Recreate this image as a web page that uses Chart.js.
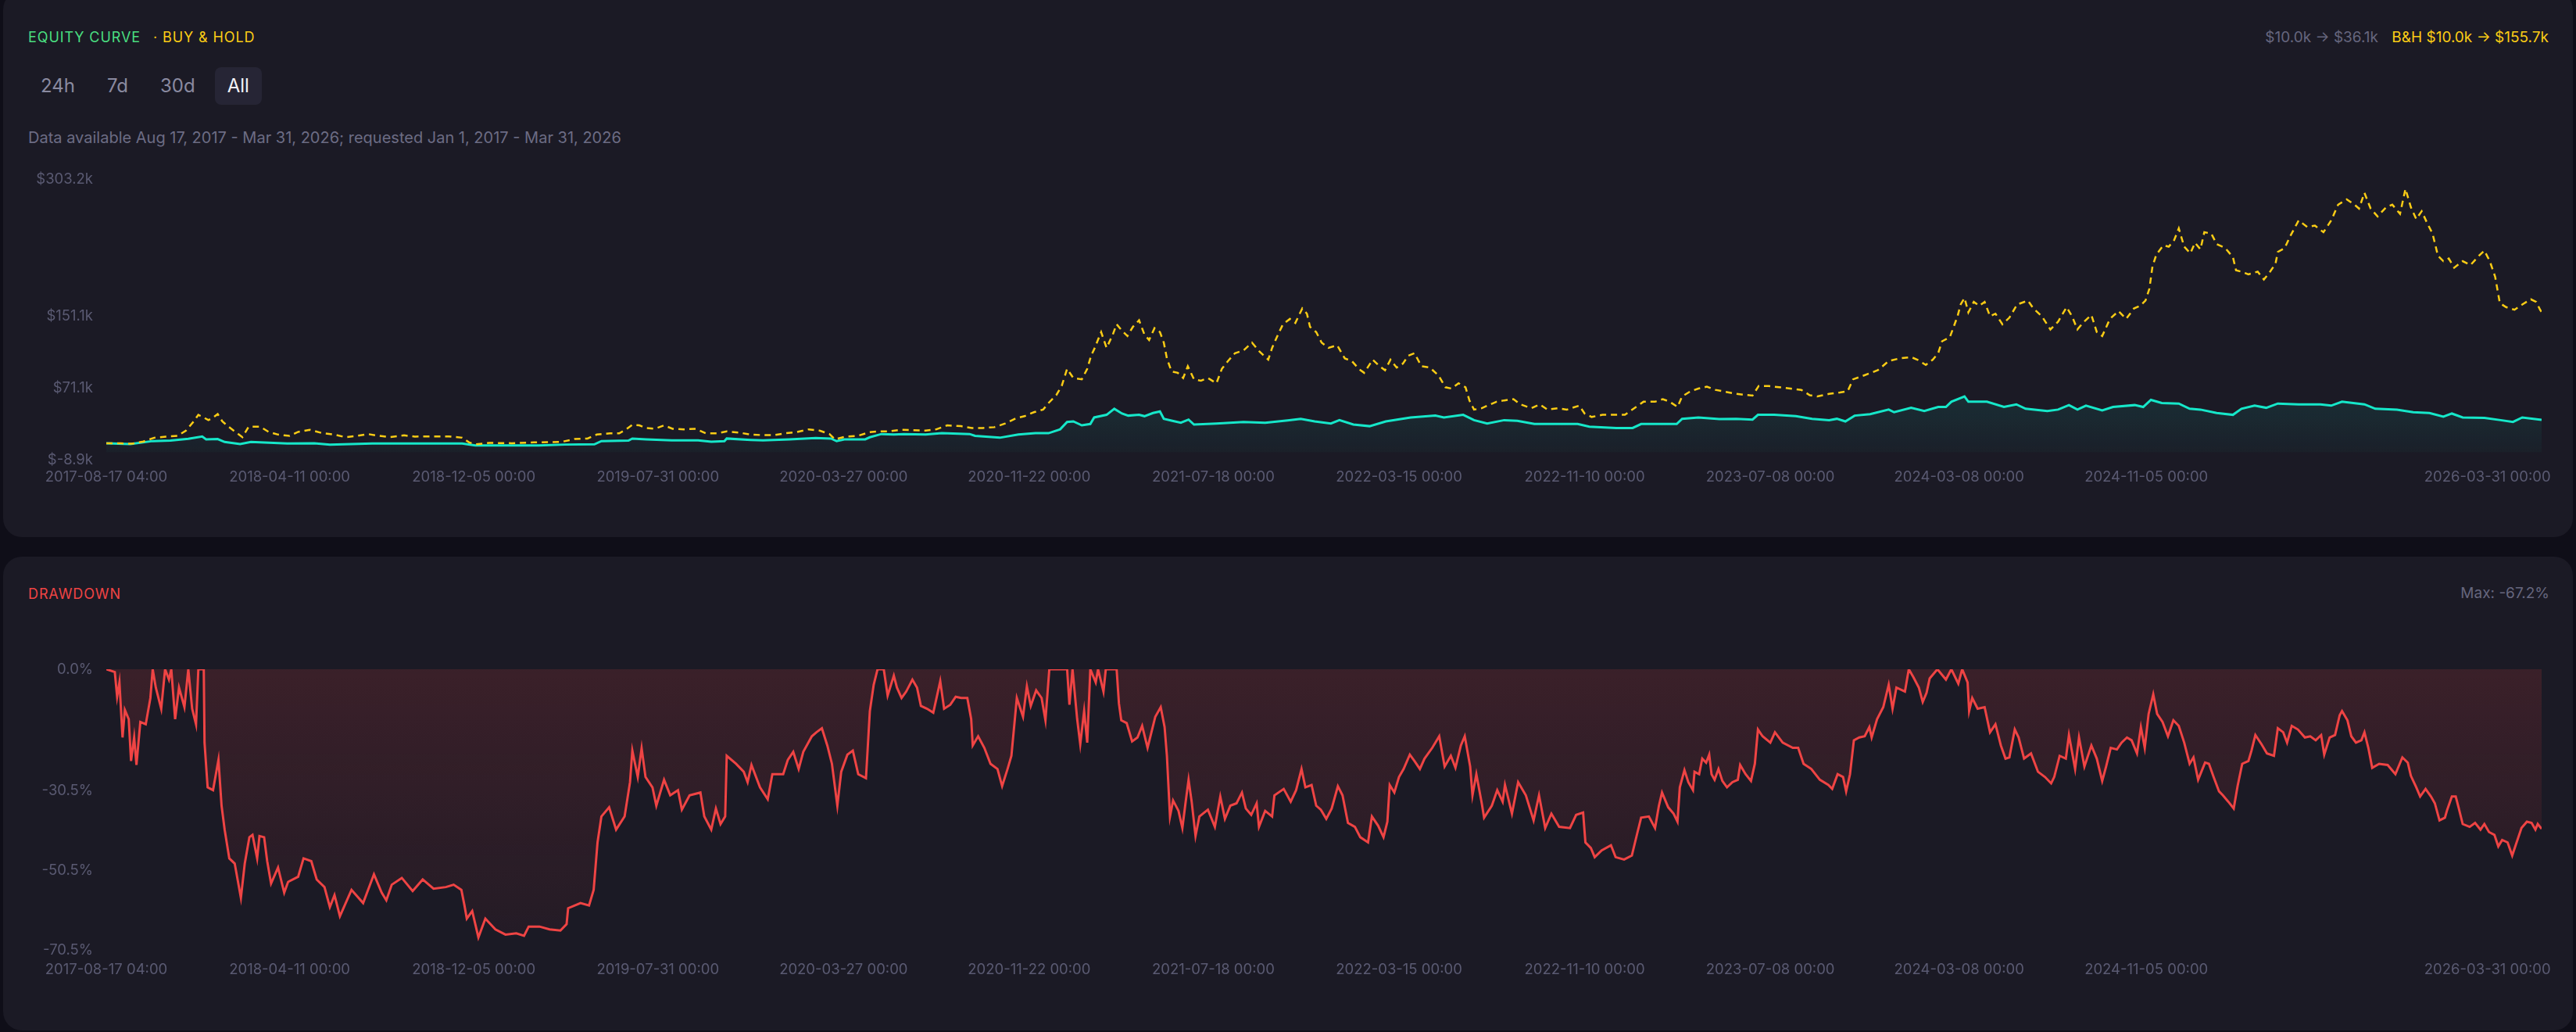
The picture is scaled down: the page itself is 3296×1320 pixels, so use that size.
<!DOCTYPE html>
<html>
<head>
<meta charset="utf-8">
<script src="https://cdn.jsdelivr.net/npm/chart.js@4.4.1/dist/chart.umd.min.js"></script>
<style>
  html, body { margin: 0; padding: 0; }
  body {
    width: 3296px; height: 1320px; overflow: hidden; position: relative;
    background: #0f0e18; font-family: Inter, "Noto Sans", sans-serif;
  }
  .panel { position: absolute; background: #1b1a25; border-radius: 24px; }
  .abs { position: absolute; white-space: nowrap; }
  .title { font-size: 18px; line-height: 24px; letter-spacing: 0.9px; }
  .btns { position: absolute; left: 36px; top: 86px; display: flex; gap: 9px; }
  .btn { font-size: 24px; line-height: 24px; padding: 12px 16px; border-radius: 8px; color: #8a8aa0; }
  .btn.on { background: #262535; color: #f2f2f7; }
  .box { position: absolute; }
</style>
</head>
<body>

<div class="panel" style="left:4px; top:-12px; width:3288px; height:699px;"></div>
<div class="panel" style="left:4px; top:712px; width:3288px; height:606px;"></div>

<div class="abs title" style="left:36px; top:36px;">
  <span style="color:#4ade80;">EQUITY CURVE</span>
  <span style="color:#facc15; margin-left:10px;">· BUY &amp; HOLD</span>
</div>
<div class="abs" style="right:35px; top:36px; font-size:19px; line-height:24px;">
  <span style="color:#66667e;">$10.0k → $36.1k</span>
  <span style="color:#facc15; margin-left:12px;">B&amp;H $10.0k → $155.7k</span>
</div>
<div class="btns">
  <div class="btn">24h</div><div class="btn">7d</div><div class="btn">30d</div><div class="btn on">All</div>
</div>
<div class="abs" style="left:36px; top:164px; font-size:20px; line-height:24px; color:#6c6c84;">
  Data available Aug 17, 2017 - Mar 31, 2026; requested Jan 1, 2017 - Mar 31, 2026
</div>

<div class="abs title" style="left:36px; top:748px; color:#ef4444;">DRAWDOWN</div>
<div class="abs" style="right:34px; top:747px; font-size:19px; line-height:24px; color:#66667e;">Max: -67.2%</div>

<div class="box" style="left:36px; top:200px; width:3228px; height:436px;"><canvas id="equity"></canvas></div>
<div class="box" style="left:36px; top:827px; width:3228px; height:439px;"><canvas id="drawdown"></canvas></div>

<script>
// x is days since 2017-08-17 04:00
const lastDay = 3148;
const tickDays = [0, 237, 475, 713, 953, 1193, 1431, 1671, 1911, 2151, 2395, 2637, 3078];
const tickLabels = [
  '2017-08-17 04:00', '2018-04-11 00:00', '2018-12-05 00:00', '2019-07-31 00:00',
  '2020-03-27 00:00', '2020-11-22 00:00', '2021-07-18 00:00', '2022-03-15 00:00',
  '2022-11-10 00:00', '2023-07-08 00:00', '2024-03-08 00:00', '2024-11-05 00:00',
  '2026-03-31 00:00'
];

// strategy equity, $k
const eqDays = [0,31,60,83,106,124,129,144,153,173,187,234,269,289,344,460,477,559,593,631,640,675,680,698,731,765,782,799,802,833,849,883,917,937,944,954,981,987,1002,1018,1031,1059,1080,1116,1123,1155,1179,1201,1218,1233,1242,1250,1261,1272,1277,1293,1303,1313,1321,1335,1342,1353,1362,1367,1378,1389,1399,1406,1435,1470,1498,1527,1544,1562,1583,1594,1612,1633,1654,1686,1718,1729,1754,1768,1785,1807,1824,1846,1873,1902,1917,1952,1973,1984,2009,2030,2037,2058,2085,2107,2128,2135,2156,2184,2205,2227,2237,2248,2260,2280,2304,2311,2333,2350,2368,2378,2385,2402,2407,2431,2453,2469,2481,2509,2523,2537,2548,2559,2580,2594,2622,2633,2643,2657,2679,2693,2707,2728,2749,2760,2777,2792,2807,2834,2862,2876,2890,2919,2933,2961,2982,3003,3021,3032,3046,3074,3095,3111,3123,3148];
const eqValues = [10.0,9.2,12.5,13.0,15.0,17.5,14.4,14.7,11.5,9.2,11.5,9.8,10.0,8.6,9.8,9.8,7.7,7.7,8.6,8.9,12.4,13.0,15.3,14.4,13.2,13.2,11.8,12.4,15.3,13.8,13.2,14.4,15.9,15.3,12.4,14.4,14.4,16.7,20.3,19.7,20.3,19.7,21.2,20.3,18.3,16.2,19.7,21.2,21.2,25.5,33.7,34.3,29.9,31.4,38.7,41.6,48.3,43.0,40.7,41.6,40.1,43.6,45.4,37.2,34.9,32.8,36.3,30.8,32.0,33.7,32.8,35.4,37.2,34.3,32.0,35.7,30.8,29.0,34.3,38.7,40.7,38.7,41.6,35.7,32.0,35.7,34.9,31.4,31.4,31.4,28.5,27.0,27.0,31.4,31.4,31.4,37.2,38.7,36.8,37.2,36.3,41.6,41.6,40.1,37.2,35.7,37.2,34.3,40.7,42.4,47.4,44.5,49.4,45.9,50.3,50.3,56.1,62.0,56.1,56.1,50.3,53.2,48.3,45.9,47.4,52.4,47.4,51.8,46.5,50.3,52.4,50.3,58.2,54.7,54.1,48.3,47.4,43.6,41.6,48.3,51.8,49.4,54.1,53.2,53.2,51.8,56.1,53.2,48.3,47.4,44.5,43.6,39.5,43.0,38.7,38.1,35.7,33.7,38.7,36.1];

// buy & hold, $k
const bhDays = [0,19,33,48,62,77,92,103,113,119,126,132,138,144,150,158,167,176,184,199,210,222,237,248,263,280,295,309,324,338,353,367,385,399,414,443,460,469,477,495,524,553,588,605,622,634,651,663,672,680,689,698,709,721,732,747,762,775,790,802,817,833,848,863,878,893,908,922,935,942,955,971,986,998,1011,1028,1059,1073,1087,1105,1119,1133,1148,1162,1176,1187,1199,1211,1218,1228,1235,1242,1250,1261,1268,1273,1277,1286,1293,1301,1306,1313,1320,1327,1335,1342,1348,1355,1362,1367,1371,1377,1385,1392,1398,1406,1415,1424,1435,1442,1450,1459,1470,1481,1491,1502,1507,1513,1521,1530,1537,1546,1552,1556,1564,1571,1580,1591,1601,1610,1619,1626,1637,1646,1653,1660,1668,1676,1683,1691,1700,1711,1722,1731,1739,1748,1757,1762,1768,1778,1789,1797,1807,1819,1828,1842,1853,1863,1876,1888,1904,1911,1920,1934,1948,1963,1975,1987,2002,2012,2021,2031,2037,2048,2058,2069,2080,2107,2128,2136,2149,2177,2191,2202,2212,2227,2241,2251,2258,2272,2290,2304,2318,2333,2341,2352,2361,2368,2373,2383,2388,2393,2397,2402,2407,2414,2421,2428,2435,2442,2451,2460,2470,2484,2491,2502,2513,2523,2534,2541,2548,2555,2566,2573,2580,2590,2601,2611,2621,2629,2636,2641,2645,2650,2659,2666,2673,2679,2686,2694,2700,2707,2712,2721,2728,2739,2749,2753,2760,2769,2781,2789,2797,2804,2807,2816,2823,2834,2845,2855,2866,2876,2885,2896,2906,2912,2919,2927,2936,2947,2955,2965,2972,2979,2986,2993,3000,3007,3014,3021,3028,3035,3046,3056,3067,3074,3081,3088,3094,3102,3113,3123,3134,3141,3146,3148];
const bhValues = [10.0,10.0,9.5,12.0,16.2,17.4,18.2,24.0,34.3,41.6,38.6,35.7,38.6,42.4,34.3,28.4,22.6,16.8,28.4,28.4,22.6,19.7,18.2,22.6,25.0,21.1,19.7,16.8,18.2,20.3,18.2,16.8,18.8,17.4,17.7,17.7,16.2,11.0,8.9,10.4,10.1,11.0,11.5,14.7,15.3,19.7,21.1,21.1,25.5,30.5,29.9,27.0,26.1,29.9,26.1,25.5,26.1,21.1,21.1,23.2,22.0,19.7,19.1,19.1,21.1,22.6,25.5,24.1,20.2,14.4,17.3,18.2,22.2,23.2,23.2,25.0,24.1,25.5,29.9,29.0,27.0,27.0,27.9,32.0,37.8,40.1,44.5,47.4,54.7,63.4,73.6,92.6,82.4,81.0,92.6,107.2,114.4,133.4,115.9,130.5,142.1,134.9,129.0,139.2,146.5,130.5,124.6,137.8,133.4,121.7,104.2,89.7,88.2,82.4,95.5,81.0,79.5,82.4,76.6,92.6,101.3,110.0,113.0,121.7,111.5,102.8,115.9,127.6,142.1,148.0,143.6,159.6,153.8,139.2,133.4,121.7,115.9,118.8,104.2,101.3,92.6,88.2,102.8,95.5,91.1,102.8,94.0,98.4,107.2,110.0,95.5,94.0,85.3,72.2,70.7,76.6,72.2,57.6,47.4,48.9,53.2,56.1,57.6,59.0,53.2,48.9,53.2,47.4,48.9,47.4,51.8,43.0,39.2,41.6,41.6,41.6,48.9,56.1,56.1,59.0,56.1,50.3,62.0,67.8,70.7,72.8,69.3,64.9,62.9,73.6,73.6,70.7,69.3,63.4,62.0,64.9,66.4,67.8,81.0,85.3,91.1,101.3,104.2,105.7,102.8,97.0,102.8,110.0,123.2,127.6,139.2,150.9,164.0,171.3,155.3,166.9,162.5,166.9,150.9,153.8,142.1,149.4,164.0,168.4,159.6,150.9,136.3,145.0,161.1,150.9,136.3,143.6,152.4,133.4,129.0,148.0,156.7,148.0,159.6,162.5,168.4,181.5,206.3,219.4,229.6,228.1,235.4,248.5,228.1,220.8,232.5,225.2,244.2,242.7,231.0,226.7,216.5,201.9,200.4,197.5,200.4,191.7,200.4,209.2,222.3,226.7,239.8,257.3,250.0,251.5,244.2,257.3,274.8,280.6,274.8,270.4,287.9,270.4,261.7,271.9,274.8,264.6,292.3,271.9,258.7,267.5,254.4,242.7,218.0,212.1,215.0,204.8,212.1,207.7,218.0,223.8,212.1,194.6,165.5,161.1,158.2,164.0,169.8,166.9,158.2,155.7];
const eqTicks = [-8.9, 71.1, 151.1, 303.2];

// drawdown, %
const ddDays = [0,11,14,17,21,24,29,32,36,39,44,51,57,60,64,71,76,81,84,89,94,101,106,111,116,119,126,127,131,138,145,149,153,159,166,174,179,185,189,195,198,204,208,213,222,230,235,248,255,265,272,282,289,295,302,317,332,346,356,362,369,382,396,409,423,439,449,459,463,466,473,481,490,503,516,530,540,546,560,573,587,595,597,613,624,630,635,640,650,659,670,677,680,687,692,697,706,711,721,729,739,744,754,768,773,782,788,794,800,802,814,824,829,834,845,855,861,875,881,888,895,901,912,918,925,932,938,945,950,958,965,972,982,987,992,997,1005,1010,1018,1022,1028,1034,1042,1048,1053,1061,1069,1078,1083,1091,1098,1105,1113,1118,1120,1127,1135,1143,1152,1158,1165,1170,1177,1185,1190,1195,1202,1209,1214,1219,1229,1242,1245,1249,1255,1259,1264,1268,1272,1279,1282,1289,1292,1306,1309,1312,1319,1326,1333,1339,1346,1351,1356,1363,1368,1371,1375,1379,1386,1391,1395,1399,1403,1408,1413,1424,1433,1440,1446,1453,1461,1468,1473,1480,1487,1490,1498,1507,1510,1522,1531,1538,1545,1550,1558,1564,1570,1577,1584,1592,1598,1605,1614,1621,1631,1636,1644,1651,1656,1659,1665,1671,1677,1685,1691,1698,1704,1714,1723,1730,1738,1744,1751,1756,1763,1766,1771,1778,1781,1791,1798,1805,1808,1817,1825,1835,1845,1852,1860,1868,1878,1892,1900,1909,1912,1919,1924,1933,1945,1951,1962,1972,1979,1984,1994,2002,2007,2011,2019,2026,2031,2034,2040,2045,2051,2053,2059,2063,2068,2072,2075,2079,2084,2089,2095,2102,2109,2112,2119,2126,2131,2135,2141,2151,2157,2167,2180,2187,2194,2204,2215,2226,2231,2238,2245,2249,2254,2259,2266,2273,2279,2282,2289,2297,2304,2309,2314,2325,2330,2336,2343,2348,2353,2357,2367,2378,2385,2394,2399,2406,2408,2412,2419,2428,2435,2442,2449,2455,2460,2467,2472,2479,2488,2497,2506,2514,2518,2525,2533,2537,2545,2550,2557,2566,2573,2580,2585,2591,2599,2605,2612,2618,2625,2630,2635,2640,2646,2651,2658,2665,2672,2679,2686,2693,2698,2704,2713,2718,2724,2731,2736,2743,2750,2755,2761,2769,2773,2778,2786,2793,2802,2807,2814,2819,2825,2833,2842,2849,2856,2863,2867,2874,2881,2887,2890,2897,2902,2908,2915,2919,2924,2929,2938,2949,2959,2968,2975,2979,2986,2991,2998,3005,3010,3016,3023,3026,3032,3037,3041,3046,3055,3062,3069,3074,3080,3087,3092,3097,3104,3110,3115,3122,3129,3135,3140,3143,3148];
const ddValues = [0,-0.7,-6.9,-3.3,-17.1,-10.2,-12.5,-23.0,-17.1,-24.0,-13.2,-13.8,-7.2,0,-4.6,-9.9,0,-2.6,0,-12.5,-4.6,-9.5,0,-9.9,-13.8,0,0,-18.4,-29.6,-30.3,-22.7,-34.2,-40.2,-47.4,-48.7,-57.3,-48.7,-42.1,-41.5,-47.4,-41.8,-42.1,-48.1,-53.7,-49.7,-56.0,-53.3,-52.0,-47.4,-48.1,-52.7,-54.6,-59.6,-56.6,-61.9,-55.3,-58.6,-51.4,-56.0,-57.9,-54.0,-52.3,-55.6,-52.7,-55.0,-54.6,-54.0,-55.3,-59.2,-62.5,-60.6,-67.2,-62.5,-65.2,-66.5,-66.2,-66.8,-64.5,-64.5,-65.2,-65.5,-63.9,-59.9,-58.6,-59.2,-55.3,-43.4,-36.9,-34.6,-40.2,-36.9,-28.3,-20.4,-27.0,-19.8,-27.0,-29.6,-34.2,-27.7,-31.6,-30.3,-35.2,-31.6,-30.9,-36.9,-40.2,-34.9,-38.8,-36.9,-21.7,-23.7,-25.7,-28.3,-24.0,-29.6,-32.6,-26.3,-26.3,-22.7,-20.7,-25.0,-20.7,-16.8,-15.8,-14.8,-19.1,-23.7,-34.2,-25.7,-21.4,-20.4,-26.3,-27.3,-10.5,-3.9,0,0,-6.6,-1.6,-4.6,-7.2,-5.6,-2.6,-4.6,-9.2,-9.9,-10.9,-3.0,-9.9,-8.9,-6.9,-7.2,-7.2,-12.5,-19.1,-16.8,-19.7,-23.7,-25.0,-29.3,-25.0,-21.7,-7.2,-11.9,-4.3,-9.2,-5.3,-7.2,-12.8,0,0,0,-8.9,0,-12.5,-18.8,-10.5,-18.4,0,-3.3,0,-5.6,0,0,-8.6,-12.8,-13.5,-18.1,-17.1,-14.2,-19.7,-15.8,-11.9,-9.5,-14.5,-21.7,-36.9,-32.9,-35.5,-39.8,-33.6,-27.7,-33.2,-41.8,-36.9,-35.2,-39.5,-31.9,-37.5,-34.2,-33.6,-30.9,-34.9,-36.5,-33.6,-39.5,-35.5,-36.9,-31.6,-30.0,-33.2,-30.3,-25.0,-29.6,-29.0,-34.2,-35.2,-37.5,-34.9,-29.3,-31.6,-38.5,-39.5,-42.1,-43.4,-36.9,-39.2,-42.1,-38.2,-29.0,-30.9,-27.0,-25.0,-21.4,-23.0,-25.0,-22.4,-19.7,-16.8,-24.4,-21.7,-24.7,-19.1,-16.8,-24.4,-31.6,-26.3,-33.6,-37.2,-34.2,-30.3,-33.2,-29.0,-36.2,-28.3,-31.6,-37.9,-31.6,-39.8,-36.2,-39.5,-39.8,-36.5,-35.9,-43.4,-44.8,-47.1,-45.4,-44.1,-47.1,-47.7,-46.7,-41.1,-37.2,-36.9,-39.8,-34.2,-30.9,-34.6,-36.2,-38.2,-29.6,-25.3,-28.3,-30.3,-25.7,-26.3,-22.4,-23.4,-21.4,-26.3,-27.7,-25.0,-28.0,-29.6,-28.3,-27.7,-24.0,-26.3,-28.0,-23.7,-15.1,-16.8,-18.4,-15.8,-18.4,-19.7,-19.7,-23.7,-25.0,-27.7,-29.0,-30.0,-26.3,-27.0,-30.6,-26.3,-17.8,-17.1,-16.8,-14.5,-17.1,-12.5,-9.5,-3.9,-9.9,-4.6,-5.6,0,-2.0,-4.6,-8.2,-5.9,-2.3,0,-2.6,0,-3.6,0,-3.3,-10.5,-7.2,-9.9,-9.5,-15.8,-13.8,-19.1,-22.4,-22.1,-15.1,-17.1,-22.4,-21.1,-25.7,-27.0,-28.6,-27.0,-21.7,-22.4,-16.5,-25.0,-17.1,-24.4,-19.1,-22.4,-28.0,-24.4,-19.7,-20.1,-18.4,-17.1,-17.8,-21.1,-14.5,-19.7,-11.2,-6.3,-11.2,-13.2,-16.8,-12.8,-14.2,-18.4,-23.7,-22.1,-27.7,-23.4,-23.7,-27.0,-30.6,-31.6,-33.2,-34.9,-29.3,-23.7,-23.0,-20.4,-16.5,-18.8,-21.1,-21.7,-14.8,-15.8,-18.4,-14.2,-15.1,-17.1,-16.8,-17.8,-16.5,-21.4,-17.1,-16.5,-11.5,-10.5,-12.8,-16.8,-18.4,-17.8,-15.8,-19.7,-24.7,-23.7,-24.0,-26.3,-22.1,-23.4,-26.7,-29.6,-31.9,-30.0,-31.9,-33.6,-37.9,-37.2,-35.2,-31.9,-31.9,-34.9,-38.8,-39.5,-38.5,-40.2,-38.8,-40.8,-41.5,-44.4,-42.8,-43.4,-46.7,-43.8,-39.8,-38.2,-38.5,-40.2,-38.8,-40.0];
const ddTicks = [-70.5, -50.5, -30.5, 0];

const toPoints = (xs, ys) => xs.map((x, i) => ({ x: x, y: ys[i] }));

Chart.defaults.font.family = 'Inter, "Noto Sans", sans-serif';
Chart.defaults.font.size = 18.5;
Chart.defaults.color = '#5a5a72';

// vertical gradient over the chart area
function areaGradient(stops) {
    return (ctx) => {
        const { ctx: c, chartArea } = ctx.chart;
        if (!chartArea) return 'transparent';
        const g = c.createLinearGradient(0, chartArea.top, 0, chartArea.bottom);
        stops.forEach(s => g.addColorStop(s[0], s[1]));
        return g;
    };
}

function xAxis(pad) {
    return {
        type: 'linear',
        min: 0,
        max: lastDay,
        grid: { display: false, drawTicks: false },
        border: { display: false },
        afterBuildTicks: (scale) => { scale.ticks = tickDays.map(v => ({ value: v })); },
        // the y axis already leaves room on the left; the last label sits inside the plot
        afterFit: (scale) => { scale.paddingLeft = 0; scale.paddingRight = 0; },
        ticks: {
            autoSkip: false,
            maxRotation: 0,
            padding: pad,
            callback: (v, i) => tickLabels[i]
        }
    };
}

function yAxis(min, max, ticks, fmt) {
    return {
        min: min,
        max: max,
        grid: { display: false, drawTicks: false },
        border: { display: false },
        afterBuildTicks: (scale) => { scale.ticks = ticks.map(v => ({ value: v })); },
        afterFit: (scale) => { scale.width = 100; },
        ticks: { padding: 17, callback: fmt }
    };
}

new Chart(document.getElementById('equity'), {
    type: 'line',
    data: {
        datasets: [{
            label: 'Buy & Hold',
            data: toPoints(bhDays, bhValues),
            borderColor: '#facc15',
            borderWidth: 2.5,
            borderDash: [8, 6],
            pointRadius: 0,
            fill: false
        },
        {
            label: 'Equity',
            data: toPoints(eqDays, eqValues),
            borderColor: '#16e7c9',
            borderWidth: 3,
            pointRadius: 0,
            fill: 'origin',
            backgroundColor: areaGradient([[0.5, 'rgba(22,231,201,0.2)'], [1, 'rgba(22,231,201,0.02)']])
        }]
    },
    options: {
        responsive: true,
        maintainAspectRatio: false,
        animation: false,
        layout: { padding: { top: 29, bottom: 3, left: 0, right: 12 } },
        plugins: { legend: { display: false }, tooltip: { enabled: false } },
        scales: {
            x: xAxis(11),
            y: yAxis(-8.9, 303.2, eqTicks, v => '$' + v.toFixed(1) + 'k')
        }
    }
});

new Chart(document.getElementById('drawdown'), {
    type: 'line',
    data: {
        datasets: [{
            label: 'Drawdown',
            data: toPoints(ddDays, ddValues),
            borderColor: '#ef4444',
            borderWidth: 3,
            pointRadius: 0,
            fill: 'origin',
            backgroundColor: areaGradient([[0, 'rgba(239,68,68,0.15)'], [1, 'rgba(239,68,68,0.04)']])
        }]
    },
    options: {
        responsive: true,
        maintainAspectRatio: false,
        animation: false,
        layout: { padding: { top: 29, bottom: 0, left: 0, right: 12 } },
        plugins: { legend: { display: false }, tooltip: { enabled: false } },
        scales: {
            x: xAxis(14),
            y: yAxis(-70.5, 0, ddTicks, v => v.toFixed(1) + '%')
        }
    }
});
</script>
</body>
</html>
